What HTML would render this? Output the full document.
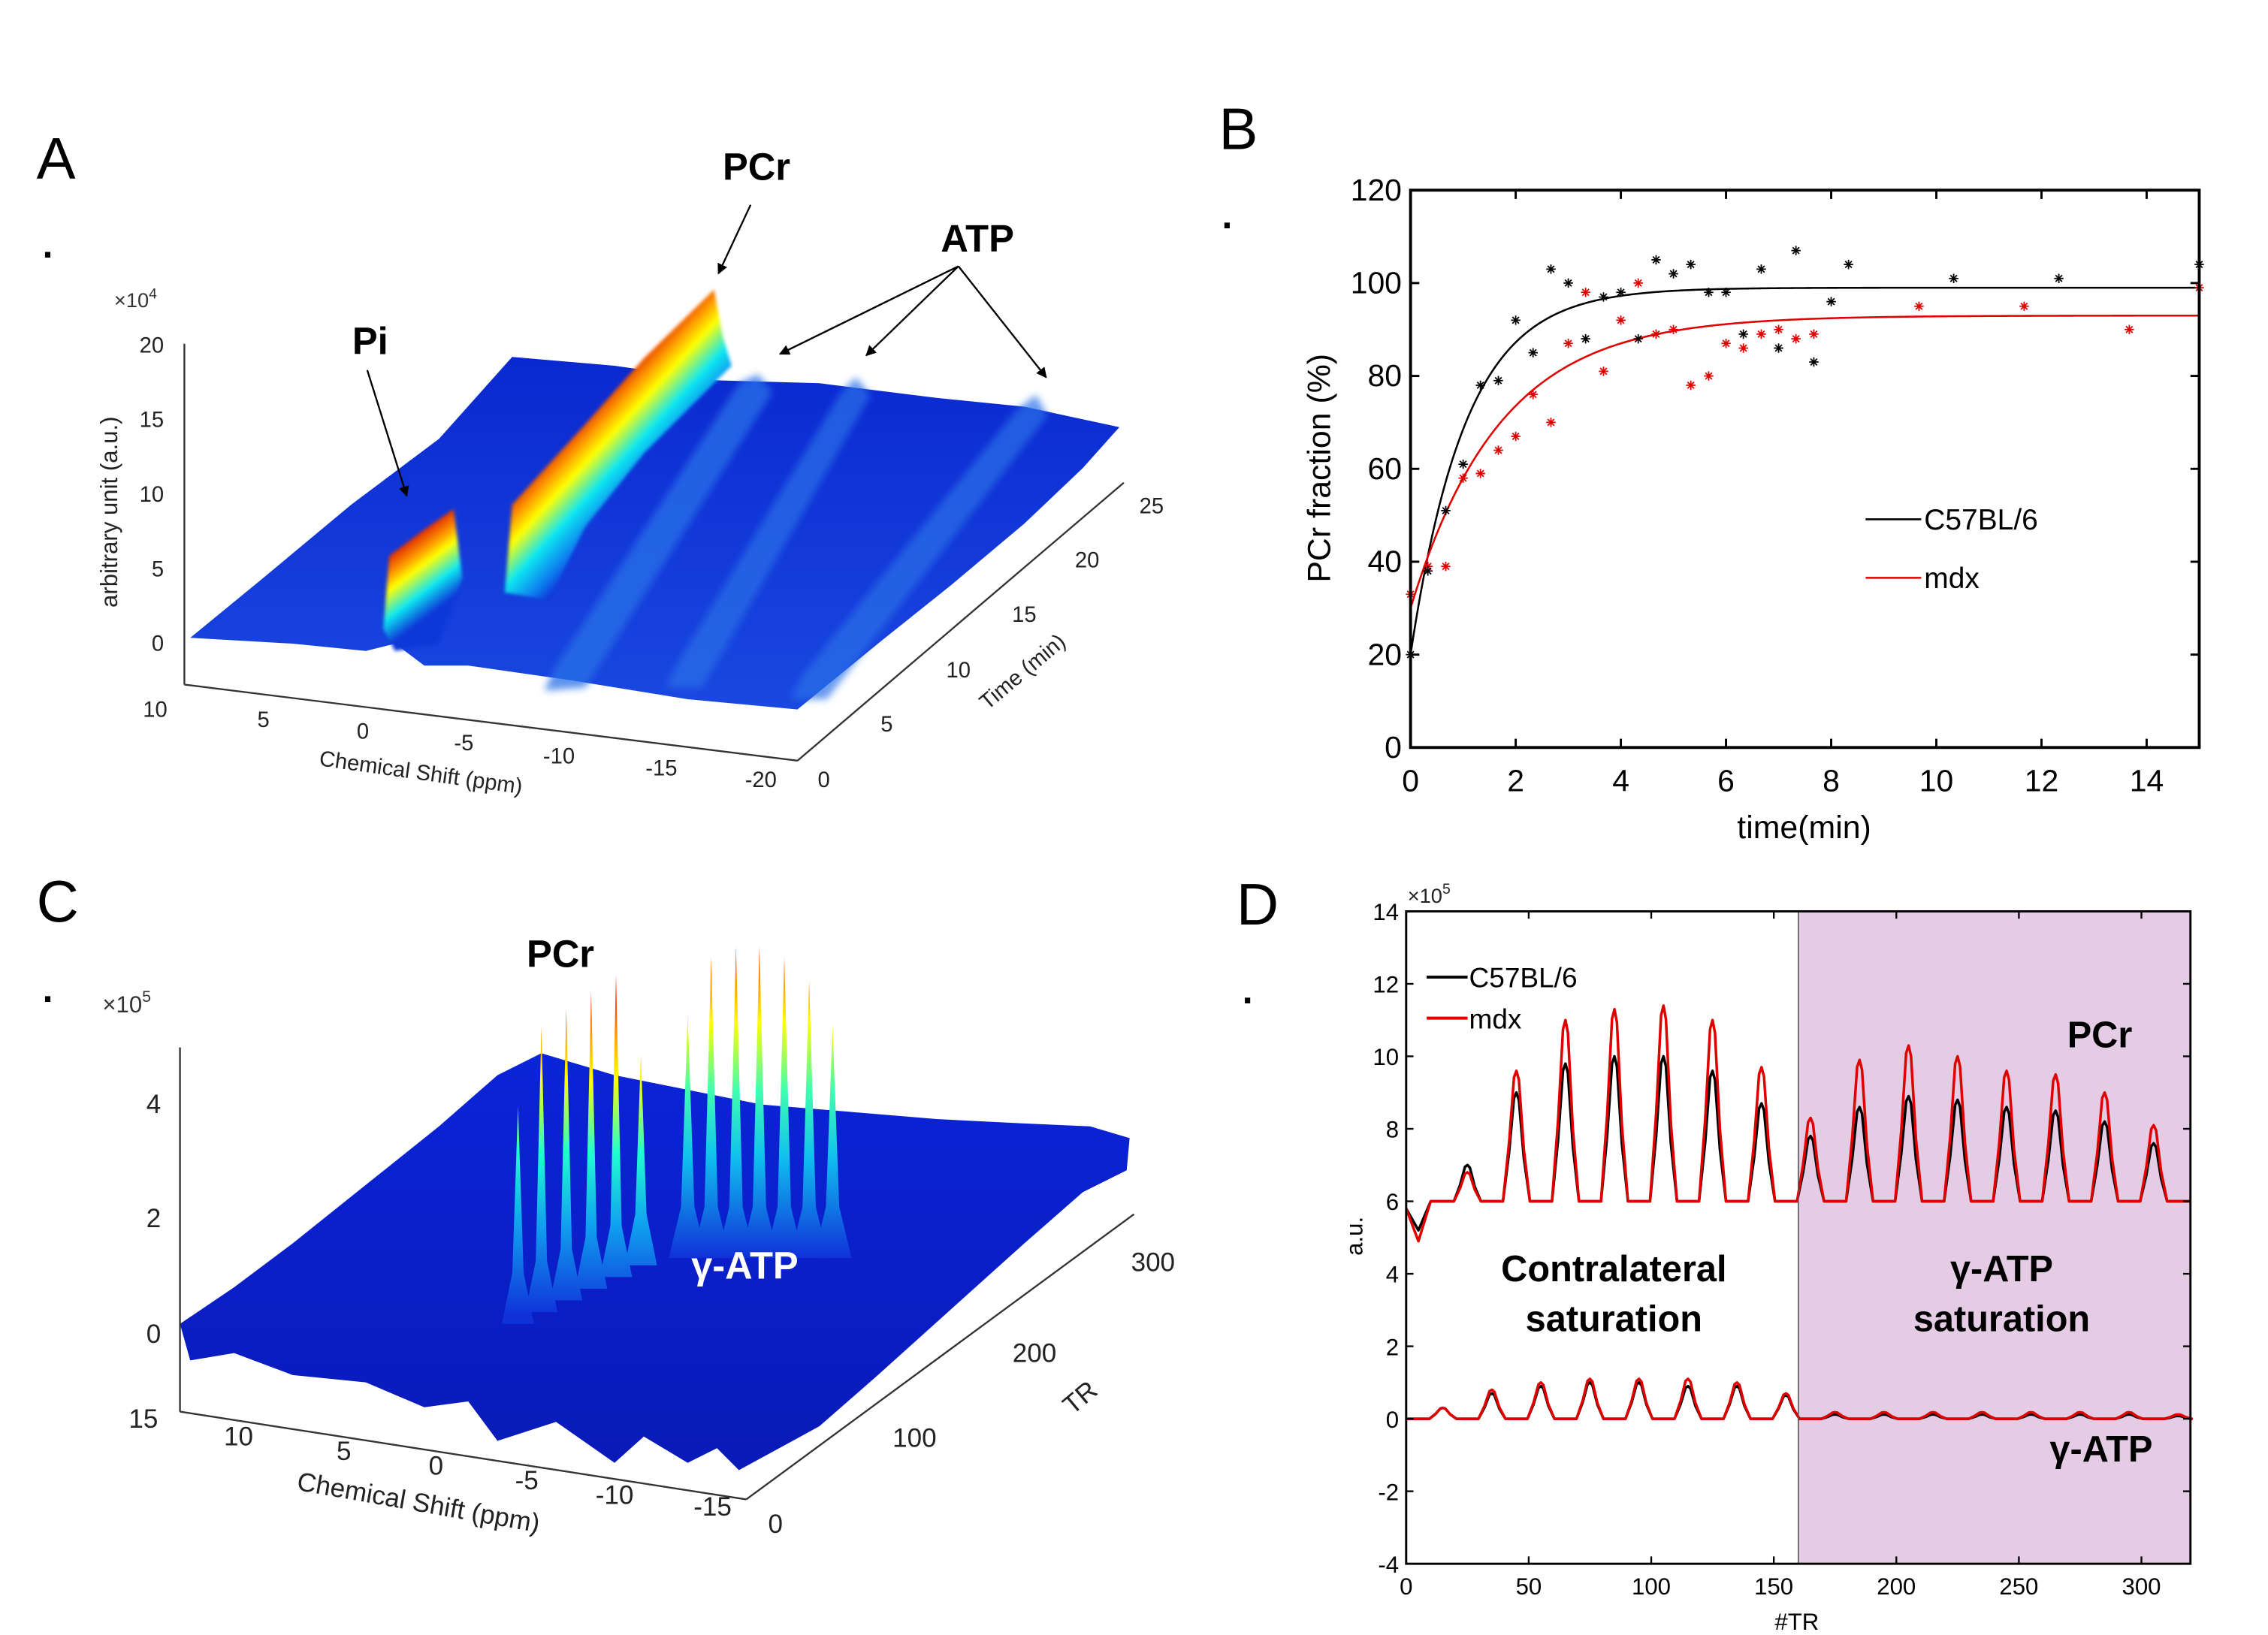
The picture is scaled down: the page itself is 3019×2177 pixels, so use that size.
<!DOCTYPE html>
<html><head><meta charset="utf-8">
<style>
html,body{margin:0;padding:0;background:#fff;}
svg{display:block;}
text{font-family:"Liberation Sans",Arial,sans-serif;}
</style></head>
<body>
<svg id="fig" xmlns="http://www.w3.org/2000/svg" width="3019" height="2177" viewBox="0 0 1550 1117.7" preserveAspectRatio="none">
<defs>
<linearGradient id="jetA" gradientUnits="userSpaceOnUse" x1="405" y1="276" x2="455" y2="322">
<stop offset="0" stop-color="#e02000"/><stop offset="0.2" stop-color="#ffa000"/><stop offset="0.35" stop-color="#ffff00"/><stop offset="0.6" stop-color="#10e8f0"/><stop offset="0.85" stop-color="#1080f0"/><stop offset="1" stop-color="#1038d8"/>
</linearGradient>
<linearGradient id="jetPi" gradientUnits="userSpaceOnUse" x1="280" y1="368" x2="310" y2="408">
<stop offset="0" stop-color="#e02000"/><stop offset="0.25" stop-color="#ffa000"/><stop offset="0.4" stop-color="#ffff00"/><stop offset="0.7" stop-color="#10e8f0"/><stop offset="1" stop-color="#1038d8"/>
</linearGradient>
<linearGradient id="jetC" gradientUnits="userSpaceOnUse" x1="0" y1="650" x2="0" y2="900">
<stop offset="0" stop-color="#900000"/><stop offset="0.12" stop-color="#ff2000"/><stop offset="0.25" stop-color="#ffb000"/><stop offset="0.35" stop-color="#ffff00"/><stop offset="0.55" stop-color="#20ffd0"/><stop offset="0.75" stop-color="#10a0f0"/><stop offset="1" stop-color="#1030d8"/>
</linearGradient>
<linearGradient id="jetC2" gradientUnits="userSpaceOnUse" x1="0" y1="630" x2="0" y2="860">
<stop offset="0" stop-color="#e01000"/><stop offset="0.15" stop-color="#ff8000"/><stop offset="0.3" stop-color="#ffff00"/><stop offset="0.5" stop-color="#40ffb0"/><stop offset="0.7" stop-color="#10c0f0"/><stop offset="1" stop-color="#1030d8"/>
</linearGradient>
<linearGradient id="surfA" x1="0" y1="0" x2="0" y2="1">
<stop offset="0" stop-color="#0a28d0"/><stop offset="1" stop-color="#1a48e0"/>
</linearGradient>
<linearGradient id="surfC" x1="0" y1="0" x2="0" y2="1">
<stop offset="0" stop-color="#0a24d8"/><stop offset="1" stop-color="#0a1ab8"/>
</linearGradient>
<filter id="blur4" x="-20%" y="-20%" width="140%" height="140%"><feGaussianBlur stdDeviation="2.5"/></filter>
<filter id="blur2" x="-20%" y="-20%" width="140%" height="140%"><feGaussianBlur stdDeviation="1.2"/></filter>
<marker id="arr" viewBox="0 0 10 10" refX="9" refY="5" markerWidth="6" markerHeight="6" orient="auto"><path d="M0,0 L10,5 L0,10 z" fill="#000"/></marker>
</defs>

<text x="25" y="122" font-size="40">A</text>
<text x="29" y="176" font-size="26" font-weight="bold">.</text>
<text x="833" y="102" font-size="40">B</text>
<text x="835" y="156" font-size="26" font-weight="bold">.</text>
<text x="25" y="630" font-size="40">C</text>
<text x="29" y="685" font-size="26" font-weight="bold">.</text>
<text x="845" y="632" font-size="40">D</text>
<text x="849" y="686" font-size="26" font-weight="bold">.</text>

<!-- ================= Panel A ================= -->
<g id="panelA">
<polygon fill="url(#surfA)" points="130,436 180,395 240,345 300,300 350,244 420,250 490,260 560,262 640,272 700,278 765,292 740,320 700,358 650,400 600,440 545,485 470,478 390,465 320,455 290,455 270,440 250,445 200,440"/>
<g filter="url(#blur4)">
<polygon fill="#2a70e8" opacity="0.75" points="372,472 380,455 505,262 518,256 528,268 400,470"/>
<polygon fill="#2a70e8" opacity="0.7" points="455,470 462,455 575,268 585,258 595,270 480,470"/>
<polygon fill="#2a70e8" opacity="0.7" points="540,478 548,462 695,280 708,270 716,284 565,478"/>
</g>
<polygon fill="url(#jetA)" filter="url(#blur2)" points="345,405 350,345 400,290 440,245 488,198 494,230 500,250 440,310 400,360 375,410"/>
<polygon fill="url(#jetPi)" filter="url(#blur2)" points="262,430 266,380 290,362 310,348 316,395 300,440 270,445"/>
<line x1="126" y1="235" x2="126" y2="468" stroke="#333" stroke-width="1.2"/>
<line x1="126" y1="468" x2="545" y2="520" stroke="#333" stroke-width="1.2"/>
<line x1="545" y1="520" x2="768" y2="330" stroke="#333" stroke-width="1.2"/>
<g font-size="15" fill="#222" text-anchor="end">
<text x="112" y="445">0</text><text x="112" y="394">5</text><text x="112" y="343">10</text><text x="112" y="292">15</text><text x="112" y="241">20</text>
</g>
<text x="78" y="210" font-size="14" fill="#333">×10<tspan dy="-6" font-size="10">4</tspan></text>
<text transform="translate(80,350) rotate(-90)" text-anchor="middle" font-size="16" fill="#222">arbitrary unit (a.u.)</text>
<g font-size="15" fill="#222" text-anchor="middle">
<text x="106" y="490">10</text><text x="180" y="497">5</text><text x="248" y="505">0</text><text x="317" y="513">-5</text><text x="382" y="522">-10</text><text x="452" y="530">-15</text><text x="520" y="538">-20</text>
</g>
<text transform="translate(287,533) rotate(8)" text-anchor="middle" font-size="15" fill="#222">Chemical Shift (ppm)</text>
<g font-size="15" fill="#222" text-anchor="middle">
<text x="563" y="538">0</text><text x="606" y="500">5</text><text x="655" y="463">10</text><text x="700" y="425">15</text><text x="743" y="388">20</text><text x="787" y="351">25</text>
</g>
<text transform="translate(702,463) rotate(-40)" text-anchor="middle" font-size="15" fill="#222">Time (min)</text>
<text x="517" y="123" font-size="26" font-weight="bold" text-anchor="middle">PCr</text>
<line x1="513" y1="140" x2="491" y2="187" stroke="#000" stroke-width="1.2" marker-end="url(#arr)"/>
<text x="668" y="172" font-size="26" font-weight="bold" text-anchor="middle">ATP</text>
<line x1="655" y1="182" x2="533" y2="242" stroke="#000" stroke-width="1.2" marker-end="url(#arr)"/>
<line x1="655" y1="182" x2="592" y2="243" stroke="#000" stroke-width="1.2" marker-end="url(#arr)"/>
<line x1="655" y1="182" x2="715" y2="258" stroke="#000" stroke-width="1.2" marker-end="url(#arr)"/>
<text x="253" y="242" font-size="26" font-weight="bold" text-anchor="middle">Pi</text>
<line x1="251" y1="253" x2="278" y2="339" stroke="#000" stroke-width="1.2" marker-end="url(#arr)"/>
</g>

<!-- ================= Panel C ================= -->
<g id="panelC">
<polygon fill="url(#surfC)" points="123,905 160,880 200,850 250,810 300,770 340,735 370,720 420,735 470,745 520,755 580,760 640,765 700,768 745,770 772,778 770,800 740,815 700,850 650,895 600,940 560,975 505,1005 490,990 470,1000 440,982 420,1000 380,972 340,985 320,958 290,962 250,945 200,940 160,925 130,930"/>
<g id="spikesC"></g>
<line x1="123" y1="716" x2="123" y2="965" stroke="#333" stroke-width="1.2"/>
<line x1="123" y1="965" x2="510" y2="1025" stroke="#333" stroke-width="1.2"/>
<line x1="510" y1="1025" x2="775" y2="830" stroke="#333" stroke-width="1.2"/>
<g font-size="18" fill="#222" text-anchor="end">
<text x="110" y="761">4</text><text x="110" y="839">2</text><text x="110" y="918">0</text>
</g>
<text x="70" y="692" font-size="16" fill="#333">×10<tspan dy="-7" font-size="11">5</tspan></text>
<g font-size="18" fill="#222" text-anchor="middle">
<text x="98" y="976">15</text><text x="163" y="988">10</text><text x="235" y="998">5</text><text x="298" y="1008">0</text><text x="360" y="1018">-5</text><text x="420" y="1028">-10</text><text x="487" y="1036">-15</text>
</g>
<text transform="translate(285,1033) rotate(10)" text-anchor="middle" font-size="18" fill="#222">Chemical Shift (ppm)</text>
<g font-size="18" fill="#222" text-anchor="middle">
<text x="530" y="1048">0</text><text x="625" y="989">100</text><text x="707" y="931">200</text><text x="788" y="869">300</text>
</g>
<text transform="translate(742,960) rotate(-40)" text-anchor="middle" font-size="18" fill="#222">TR</text>
<text x="383" y="661" font-size="26" font-weight="bold" text-anchor="middle">PCr</text>
<text x="509" y="874" font-size="26" font-weight="bold" fill="#fff" text-anchor="middle">γ-ATP</text>
</g>

<!-- ================= Panel B ================= -->
<g id="panelB">
<g id="bFits"></g>
<g id="bPoints"></g>
<g id="bAxes"></g>
<text x="1233" y="573" font-size="22" text-anchor="middle">time(min)</text>
<text transform="translate(909,320) rotate(-90)" font-size="22" text-anchor="middle">PCr fraction (%)</text>
<line x1="1275" y1="355" x2="1313" y2="355" stroke="#000" stroke-width="1.3"/>
<text x="1315" y="362" font-size="20">C57BL/6</text>
<line x1="1275" y1="395" x2="1313" y2="395" stroke="#e00000" stroke-width="1.3"/>
<text x="1315" y="402" font-size="20">mdx</text>
</g>

<!-- ================= Panel D ================= -->
<g id="panelD">
<rect id="dShade" fill="#e5cce5"/>
<g id="dLines"></g>
<g id="dAxes"></g>
<text x="962" y="617" font-size="14" fill="#222">×10<tspan dy="-6" font-size="10">5</tspan></text>
<text x="1228" y="1114" font-size="16" text-anchor="middle">#TR</text>
<text transform="translate(931,845) rotate(-90)" font-size="16" text-anchor="middle">a.u.</text>
<line x1="975" y1="668" x2="1003" y2="668" stroke="#000" stroke-width="2"/>
<text x="1004" y="675" font-size="19">C57BL/6</text>
<line x1="975" y1="696" x2="1003" y2="696" stroke="#e00000" stroke-width="2"/>
<text x="1004" y="703" font-size="19">mdx</text>
<text x="1435" y="716" font-size="25" font-weight="bold" text-anchor="middle">PCr</text>
<text x="1103" y="876" font-size="25" font-weight="bold" text-anchor="middle">Contralateral</text>
<text x="1103" y="910" font-size="25" font-weight="bold" text-anchor="middle">saturation</text>
<text x="1368" y="876" font-size="25" font-weight="bold" text-anchor="middle">γ-ATP</text>
<text x="1368" y="910" font-size="25" font-weight="bold" text-anchor="middle">saturation</text>
<text x="1436" y="999" font-size="25" font-weight="bold" text-anchor="middle">γ-ATP</text>
</g>
</svg>

<script>
// ---------- Panel B data ----------
const bTimesBlack = [0,0.33,0.67,1,1.33,1.67,2,2.33,2.67,3,3.33,3.67,4,4.33,4.67,5,5.33,5.67,6,6.33,6.67,7,7.33,7.67,8,8.33,10.33,12.33,15];
const bValuesBlack = [20,38,51,61,78,79,92,85,103,100,88,97,98,88,105,102,104,98,98,89,103,86,107,83,96,104,101,101,104];
const bTimesRed = [0,0.33,0.67,1,1.33,1.67,2,2.33,2.67,3,3.33,3.67,4,4.33,4.67,5,5.33,5.67,6,6.33,6.67,7,7.33,7.67,9.67,11.67,13.67,15];
const bValuesRed = [33,39,39,58,59,64,67,76,70,87,98,81,92,100,89,90,78,80,87,86,89,90,88,89,95,95,90,99];
const bFitPlateau = [99,93];
const bFitStart = [20,30];
const bFitTau = [1.05,1.7];
const bXTicks = [0,2,4,6,8,10,12,14];
const bYTicks = [0,20,40,60,80,100,120];

// ---------- Panel D data ----------
const dPcrCenters = [25,45,65,85,105,125,145,165,185,205,225,245,265,285,305];
const dPcrBlack = [7.0,9.0,9.8,10.0,10.0,9.6,8.7,7.8,8.6,8.9,8.8,8.6,8.5,8.2,7.6];
const dPcrRed = [6.8,9.6,11.0,11.3,11.4,11.0,9.7,8.3,9.9,10.3,10.0,9.6,9.5,9.0,8.1];
const dStartDipBlack = [5.8,5.2];
const dStartDipRed = [5.8,4.9];
const dAtpCenters = [15,35,55,75,95,115,135,155,175,195,215,235,255,275,295,315];
const dAtpBlack = [0.3,0.7,0.9,1.0,1.0,0.9,0.9,0.65,0.12,0.12,0.12,0.12,0.12,0.12,0.12,0.08];
const dAtpRed = [0.3,0.8,1.0,1.1,1.1,1.1,1.0,0.7,0.18,0.18,0.18,0.18,0.18,0.18,0.18,0.12];
const dXTicks = [0,50,100,150,200,250,300];
const dYTicks = [-4,-2,0,2,4,6,8,10,12,14];
const dShadeRange = [160,320];

// ---------- Panel C peaks ----------
const cPcrPeakX = [354,370,387,404,421,438];
const cPcrPeakTop = [4.0,5.4,5.7,6.0,6.3,4.9];
const cAtpPeakX = [470,486,503,519,536,553,569];
const cAtpPeakTop = [5.6,6.6,6.8,6.8,6.6,6.2,5.4];

const NS = 'http://www.w3.org/2000/svg';
function mk(tag, attrs, parent){
  const e = document.createElementNS(NS, tag);
  for (const k in attrs) e.setAttribute(k, attrs[k]);
  parent.appendChild(e); return e;
}

// ===== Panel B =====
(function(){
  const X0=964, X1=1503, Y0=511, Y1=130;
  const xs = t => X0 + (t/15)*(X1-X0);
  const ys = v => Y0 - (v/120)*(Y0-Y1);
  const fits = document.getElementById('bFits');
  const cols = ['#000','#e00000'];
  for (let s=0;s<2;s++){
    let d='';
    for (let i=0;i<=300;i++){
      const t=15*i/300;
      const v=bFitPlateau[s]-(bFitPlateau[s]-bFitStart[s])*Math.exp(-t/bFitTau[s]);
      d+=(i?'L':'M')+xs(t).toFixed(2)+','+ys(v).toFixed(2);
    }
    const p = mk('path',{d:d,fill:'none',stroke:cols[s],'stroke-width':1.3},fits);
    
    
  }
  const pts = document.getElementById('bPoints');
  function star(x,y,c,name){
    const r=3.2, q=r*0.7;
    const p = mk('path',{d:`M${x-r},${y}L${x+r},${y}M${x},${y-r}L${x},${y+r}M${x-q},${y-q}L${x+q},${y+q}M${x-q},${y+q}L${x+q},${y-q}`,stroke:c,'stroke-width':0.9,fill:'none'},pts);
    
    
  }
  bTimesRed.forEach((t,i)=>star(xs(t),ys(bValuesRed[i]),'#e00000','point-mdx'));
  bTimesBlack.forEach((t,i)=>star(xs(t),ys(bValuesBlack[i]),'#000','point-c57'));
  const ax = document.getElementById('bAxes');
  const fr = mk('rect',{x:X0,y:Y1,width:X1-X0,height:Y0-Y1,fill:'none',stroke:'#000','stroke-width':2},ax);
  
  
  bXTicks.forEach(t=>{
    const x=xs(t);
    mk('line',{x1:x,y1:Y0,x2:x,y2:Y0-6,stroke:'#000','stroke-width':1.5},ax);
    mk('line',{x1:x,y1:Y1,x2:x,y2:Y1+6,stroke:'#000','stroke-width':1.5},ax);
    const tx = mk('text',{x:x,y:Y0+30,'font-size':21,'text-anchor':'middle'},ax);
    tx.textContent=t;
    
    
  });
  bYTicks.forEach(v=>{
    const y=ys(v);
    mk('line',{x1:X0,y1:y,x2:X0+6,y2:y,stroke:'#000','stroke-width':1.5},ax);
    mk('line',{x1:X1,y1:y,x2:X1-6,y2:y,stroke:'#000','stroke-width':1.5},ax);
    const tx = mk('text',{x:X0-6,y:y+7,'font-size':21,'text-anchor':'end'},ax);
    tx.textContent=v;
    
    
  });
})();

// ===== Panel D =====
(function(){
  const X0=961, X1=1497, Y0=1069, Y1=623;
  const xs = t => X0 + (t/320)*(X1-X0);
  const ys = v => Y0 - ((v+4)/18)*(Y0-Y1);
  const sh = document.getElementById('dShade');
  sh.setAttribute('x', xs(dShadeRange[0])); sh.setAttribute('y', Y1);
  sh.setAttribute('width', xs(dShadeRange[1])-xs(dShadeRange[0])); sh.setAttribute('height', Y0-Y1);
  const ax = document.getElementById('dAxes');
  const div = mk('line',{x1:xs(160),y1:Y1,x2:xs(160),y2:Y0,stroke:'#555','stroke-width':0.8},ax);
  
  
  const lines = document.getElementById('dLines');
  function peakPath(centers, heights, base, startPts){
    let pts=[];
    if (startPts){ pts.push([0,startPts[0]],[5,startPts[1]],[10,base]); } else { pts.push([0,base]); }
    centers.forEach((c,i)=>{
      const h=heights[i];
      pts.push([c-5.5,base],[c-3,base+(h-base)*0.45],[c-1,base+(h-base)*0.95],[c,h],[c+1,base+(h-base)*0.93],[c+3,base+(h-base)*0.4],[c+5.5,base]);
    });
    pts.push([320,base]);
    return pts.map((p,i)=>(i?'L':'M')+xs(p[0]).toFixed(2)+','+ys(p[1]).toFixed(2)).join('');
  }
  const defs=[
    [dPcrCenters,dPcrBlack,6,dStartDipBlack,'#000','pcr-line-c57'],
    [dAtpCenters,dAtpBlack,0,null,'#000','atp-line-c57'],
    [dPcrCenters,dPcrRed,6,dStartDipRed,'#e00000','pcr-line-mdx'],
    [dAtpCenters,dAtpRed,0,null,'#e00000','atp-line-mdx']
  ];
  defs.forEach(d=>{
    const p = mk('path',{d:peakPath(d[0],d[1],d[2],d[3]),fill:'none',stroke:d[4],'stroke-width':1.8,'stroke-linejoin':'round'},lines);
    
    
  });
  const fr = mk('rect',{x:X0,y:Y1,width:X1-X0,height:Y0-Y1,fill:'none',stroke:'#000','stroke-width':1.5},ax);
  
  
  dXTicks.forEach(t=>{
    const x=xs(t);
    mk('line',{x1:x,y1:Y0,x2:x,y2:Y0-5,stroke:'#000','stroke-width':1.2},ax);
    mk('line',{x1:x,y1:Y1,x2:x,y2:Y1+5,stroke:'#000','stroke-width':1.2},ax);
    const tx = mk('text',{x:x,y:Y0+21,'font-size':16,'text-anchor':'middle'},ax);
    tx.textContent=t;
    
    
  });
  dYTicks.forEach(v=>{
    const y=ys(v);
    mk('line',{x1:X0,y1:y,x2:X0+5,y2:y,stroke:'#000','stroke-width':1.2},ax);
    mk('line',{x1:X1,y1:y,x2:X1-5,y2:y,stroke:'#000','stroke-width':1.2},ax);
    const tx = mk('text',{x:X0-5,y:y+6,'font-size':16,'text-anchor':'end'},ax);
    tx.textContent=v;
    
    
  });
})();

// ===== Panel C spikes =====
(function(){
  const g = document.getElementById('spikesC');
  const zs = v => 912 - v*39;  // z scale (x10^5) from panel C axis
  function spike(x, top, base, w, grad, name){
    const p = mk('polygon',{points:`${x-w},${base} ${x-w*0.35},${base-35} ${x},${zs(top)} ${x+w*0.35},${base-35} ${x+w},${base}`,fill:grad},g);
    
    
  }
  cAtpPeakX.forEach((x,i)=>spike(x, cAtpPeakTop[i], 860, 13, 'url(#jetC2)', 'gamma-atp-spike'));
  cPcrPeakX.forEach((x,i)=>spike(x, cPcrPeakTop[i], 905 - i*8, 11, 'url(#jetC)', 'pcr-spike'));
})();
</script>
</body></html>
